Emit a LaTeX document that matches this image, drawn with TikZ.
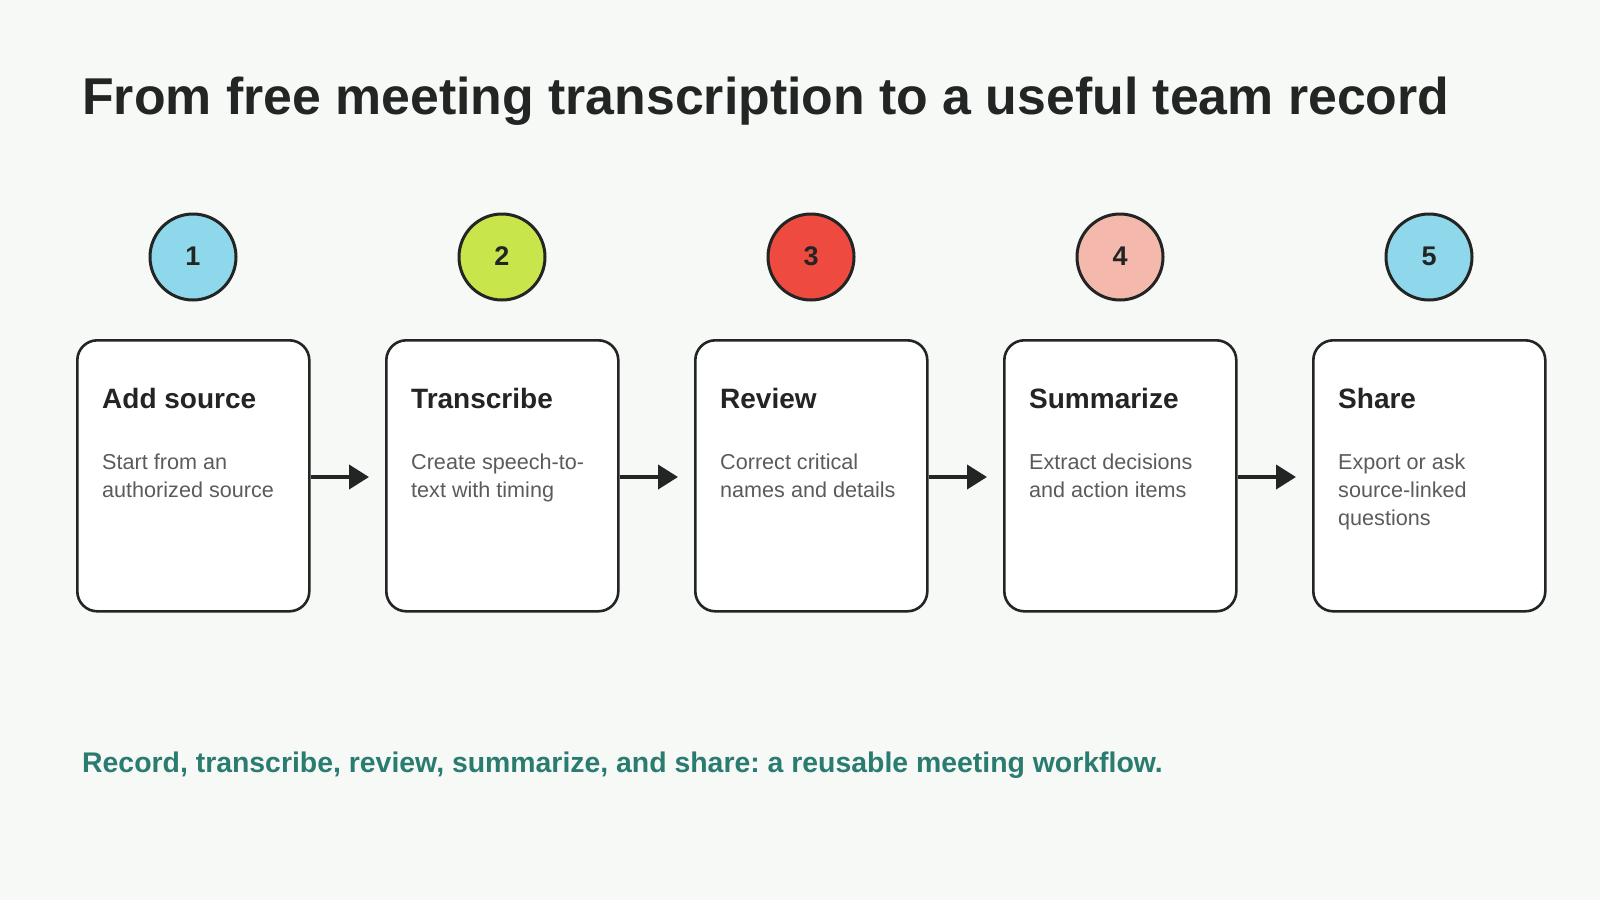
\documentclass[tikz,border=0pt]{standalone}
\usepackage{fontspec}
\setmainfont{Liberation Sans}
\usetikzlibrary{arrows.meta}
\definecolor{bg}{HTML}{F7F9F7}
\definecolor{ink}{HTML}{222523}
\definecolor{desc}{HTML}{5A5C5C}
\definecolor{teal}{HTML}{2A7B70}
\definecolor{cblue}{HTML}{8FD8EC}
\definecolor{cgreen}{HTML}{C8E64C}
\definecolor{cred}{HTML}{EE4A40}
\definecolor{cpink}{HTML}{F5B8AD}
\frenchspacing
\tikzset{
  stepcard/.style={draw=ink, line width=2.6pt, fill=white, rounded corners=20pt, minimum width=232pt, minimum height=271pt, inner sep=0pt, anchor=north west},
  numdot/.style={circle, draw=ink, line width=3pt, minimum size=86pt, inner sep=0pt, font=\fontsize{27}{27}\selectfont\bfseries, text=ink},
  cardtitle/.style={anchor=base west, inner sep=0pt, font=\fontsize{28}{28}\selectfont\bfseries, text=ink},
  carddesc/.style={anchor=north west, inner sep=0pt, align=left, font=\fontsize{21.6}{28}\selectfont, text=desc},
  flow/.style={draw=ink, line width=4pt, -{Triangle[length=20pt,width=24pt]}, shorten >=16pt}
}
\begin{document}
\begin{tikzpicture}[x=1pt,y=-1pt]
\fill[bg] (0,0) rectangle (1600,900);
\useasboundingbox (0,0) rectangle (1600,900);
\node[anchor=base west, inner sep=0pt, font=\fontsize{51.8}{51.8}\selectfont\bfseries, text=ink] (title) at (82,114) {From free meeting transcription to a useful team record};
\foreach \i/\x/\col/\t/\d in {1/76/cblue/Add source/{Start from an\\authorized source},
  2/385/cgreen/Transcribe/{Create speech-to-\\text with timing},
  3/694/cred/Review/{Correct critical\\names and details},
  4/1003/cpink/Summarize/{Extract decisions\\and action items},
  5/1312/cblue/Share/{Export or ask\\source-linked\\questions}} {
  \node[stepcard] (card\i) at (\x,339) {};
  \node[numdot, fill=\col] (num\i) at (\x+117,257) {\raisebox{2pt}{\i}};
  \node[cardtitle] (ct\i) at (\x+26,408) {\t};
  \node[carddesc] (cd\i) at (\x+26,454) {\d};
}
\foreach \a/\b in {1/2,2/3,3/4,4/5} {
  \draw[flow] (card\a.east |- 0,477) -- (card\b.west |- 0,477);
}
\node[anchor=base west, inner sep=0pt, font=\fontsize{28.4}{28.4}\selectfont\bfseries, text=teal] (foot) at (82,772) {Record, transcribe, review, summarize, and share: a reusable meeting workflow.};
\end{tikzpicture}
\end{document}
